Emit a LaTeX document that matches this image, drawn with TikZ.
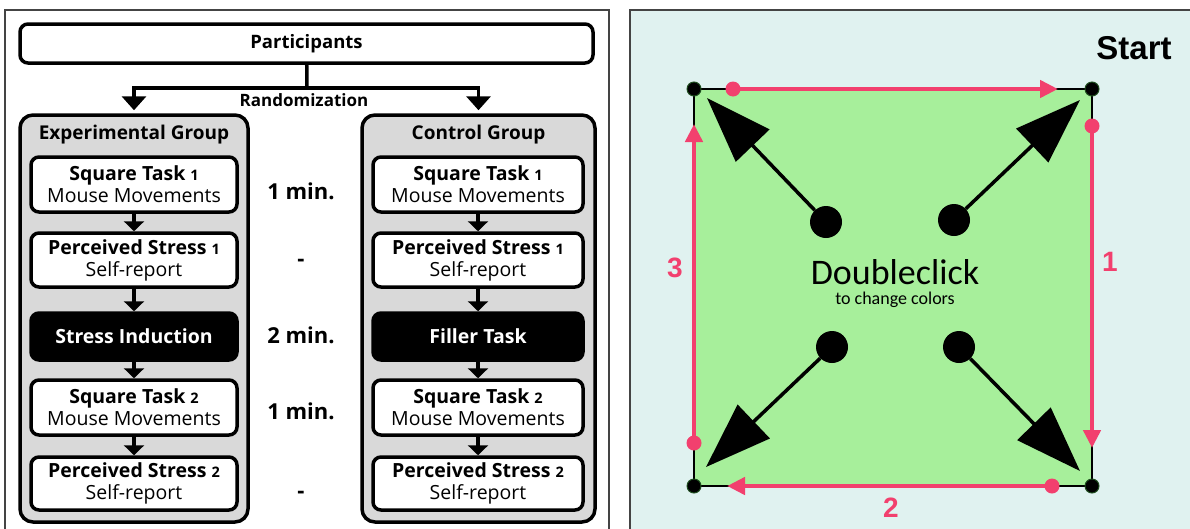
\documentclass[tikz,border=0pt]{standalone}
\usepackage{fontspec}
\setmainfont{Open Sans}
\newfontfamily\arialf{Liberation Sans}
\newfontfamily\calf{Carlito}
\usetikzlibrary{arrows.meta}
\definecolor{panelbg}{HTML}{E0F2F0}
\definecolor{sqgreen}{HTML}{A7EF9B}
\definecolor{pathpink}{HTML}{F2406E}
\definecolor{groupgray}{HTML}{D9D9D9}
\definecolor{dotrim}{HTML}{1E4D1E}
\definecolor{framegray}{HTML}{444444}
% smaller step number after a task name
\newcommand\stepnum[1]{{\fontsize{14.5}{16}\selectfont #1}}
\begin{document}
\begin{tikzpicture}[x=1pt,y=-1pt,
  frame/.style={draw=framegray, line width=1.5pt},
  box/.style={draw, line width=3.5pt, rounded corners=8pt, fill=white, align=center,
    inner sep=0pt, font=\fontsize{19.5}{22}\selectfont},
  lbox/.style={box, minimum width=206pt},
  rbox/.style={box, minimum width=210pt},
  darkbox/.style={fill=black, text=white, font=\bfseries\fontsize{19.5}{22}\selectfont},
  group/.style={draw, line width=3.5pt, rounded corners=13pt, fill=groupgray,
    minimum height=407pt, inner sep=0pt},
  gtitle/.style={font=\bfseries\fontsize{19}{22}\selectfont},
  midlabel/.style={anchor=base, font=\bfseries\fontsize{22}{24}\selectfont},
  flow/.style={line width=3.5pt, -{Triangle[length=10pt,width=20pt]}},
  split/.style={line width=3.5pt, -{Triangle[length=14pt,width=24pt]}, shorten >=3pt},
  pinkarrow/.style={draw=pathpink, line width=4.5pt, -{Triangle[length=18pt,width=17pt]}},
  pdot/.style={circle, fill=pathpink, minimum size=15pt, inner sep=0pt},
  cdot/.style={circle, fill=black, draw=dotrim, line width=1pt, minimum size=14pt, inner sep=0pt},
  blob/.style={circle, fill=black, minimum size=32pt, inner sep=0pt},
  bigarrow/.style={line width=3.5pt, -{Triangle[length=66pt,width=46pt]}},
  pinknum/.style={text=pathpink, font=\arialf\bfseries\fontsize{28}{30}\selectfont},
]
\useasboundingbox (0,0) rectangle (1190,528);
\fill[white] (0,0) rectangle (1190,528);

% ---------- study design flow chart ----------
\draw[frame] (5,10) rectangle (609,540);

\node[box, minimum width=573pt, minimum height=39pt,
  font=\bfseries\fontsize{18.5}{20}\selectfont] (P) at (306.5,43.5) {Participants};
\coordinate (fork) at (307,88);

\node[group, minimum width=228pt] (EG) at (134,318.5) {};
\node[group, minimum width=233pt] (CG) at (478.5,318.5) {};

\draw[line width=3.5pt] (P) -- (fork);
\draw[split] (fork) -| (EG.north);
\draw[split] (fork) -| (CG.north);
\node[font=\bfseries\fontsize{17}{19}\selectfont] (rnd) at (304,100) {Randomization};

\node[gtitle] (EGt) at (134,135) {Experimental Group};
\node[gtitle] (CGt) at (478.5,135) {Control Group};

% experimental group steps
\node[lbox, minimum height=55pt] (e1) at (134,184.5)
  {\textbf{Square Task \stepnum{1}}\\Mouse Movements};
\node[lbox, minimum height=54pt] (e2) at (134,260)
  {\textbf{Perceived Stress \stepnum{1}}\\Self-report};
\node[lbox, darkbox, minimum height=47pt] (e3) at (134,336.5) {Stress Induction};
\node[lbox, minimum height=55pt] (e4) at (134,407.5)
  {\textbf{Square Task \stepnum{2}}\\Mouse Movements};
\node[lbox, minimum height=53pt] (e5) at (134,483.5)
  {\textbf{Perceived Stress \stepnum{2}}\\Self-report};

% control group steps
\node[rbox, minimum height=55pt] (c1) at (478,184.5)
  {\textbf{Square Task \stepnum{1}}\\Mouse Movements};
\node[rbox, minimum height=54pt] (c2) at (478,260)
  {\textbf{Perceived Stress \stepnum{1}}\\Self-report};
\node[rbox, darkbox, minimum height=47pt] (c3) at (478,336.5) {Filler Task};
\node[rbox, minimum height=55pt] (c4) at (478,407.5)
  {\textbf{Square Task \stepnum{2}}\\Mouse Movements};
\node[rbox, minimum height=53pt] (c5) at (478,483.5)
  {\textbf{Perceived Stress \stepnum{2}}\\Self-report};

\foreach \a/\b in {e1/e2,e2/e3,e3/e4,e4/e5,c1/c2,c2/c3,c3/c4,c4/c5}
  \draw[flow] (\a) -- (\b);

% durations
\node[midlabel] (d1) at (301,199) {1 min.};
\node[midlabel] (d2) at (301,266) {-};
\node[midlabel] (d3) at (301,343) {2 min.};
\node[midlabel] (d4) at (301,419) {1 min.};
\node[midlabel] (d5) at (301,498) {-};

% ---------- square task screen ----------
\draw[frame, fill=panelbg] (630,10) rectangle (1200,540);
\fill[sqgreen] (694,89) rectangle (1092,486);
\draw[line width=2pt] (694,89) rectangle (1092,486);

\node[pdot] (p1) at (733,89) {};
\node[pdot] (p2) at (1092,126) {};
\node[pdot] (p3) at (1052,486) {};
\node[pdot] (p4) at (694,443) {};
\coordinate (q1) at (1058,89);
\coordinate (q2) at (1092,448);
\coordinate (q3) at (727,486);
\coordinate (q4) at (694,124);
\draw[pinkarrow] (p1.center) -- (q1);
\draw[pinkarrow] (p2.center) -- (q2);
\draw[pinkarrow] (p3.center) -- (q3);
\draw[pinkarrow] (p4.center) -- (q4);

\node[cdot] (k1) at (694,89) {};
\node[cdot] (k2) at (1092,89) {};
\node[cdot] (k3) at (1092,486) {};
\node[cdot] (k4) at (694,486) {};

\node[blob] (b1) at (826,222) {};
\node[blob] (b2) at (954,220) {};
\node[blob] (b3) at (832,347) {};
\node[blob] (b4) at (959,347) {};
\coordinate (t1) at (707,98);
\coordinate (t2) at (1080,100);
\coordinate (t3) at (706,467);
\coordinate (t4) at (1080,471);
\draw[bigarrow] (b1) -- (t1);
\draw[bigarrow] (b2) -- (t2);
\draw[bigarrow] (b3) -- (t3);
\draw[bigarrow] (b4) -- (t4);

\node[font=\arialf\bfseries\fontsize{33}{34}\selectfont] (start) at (1134,48) {Start};
\node[pinknum] (n1) at (1110,262) {1};
\node[pinknum] (n2) at (891,508) {2};
\node[pinknum] (n3) at (675,268) {3};
\node[inner sep=0pt, font=\calf\fontsize{36}{38}\selectfont] (dc) at (895,272) {Doubleclick};
\node[inner sep=0pt, font=\calf\fontsize{18}{20}\selectfont] (dcs) at (895,300) {to change colors};
\end{tikzpicture}
\end{document}
